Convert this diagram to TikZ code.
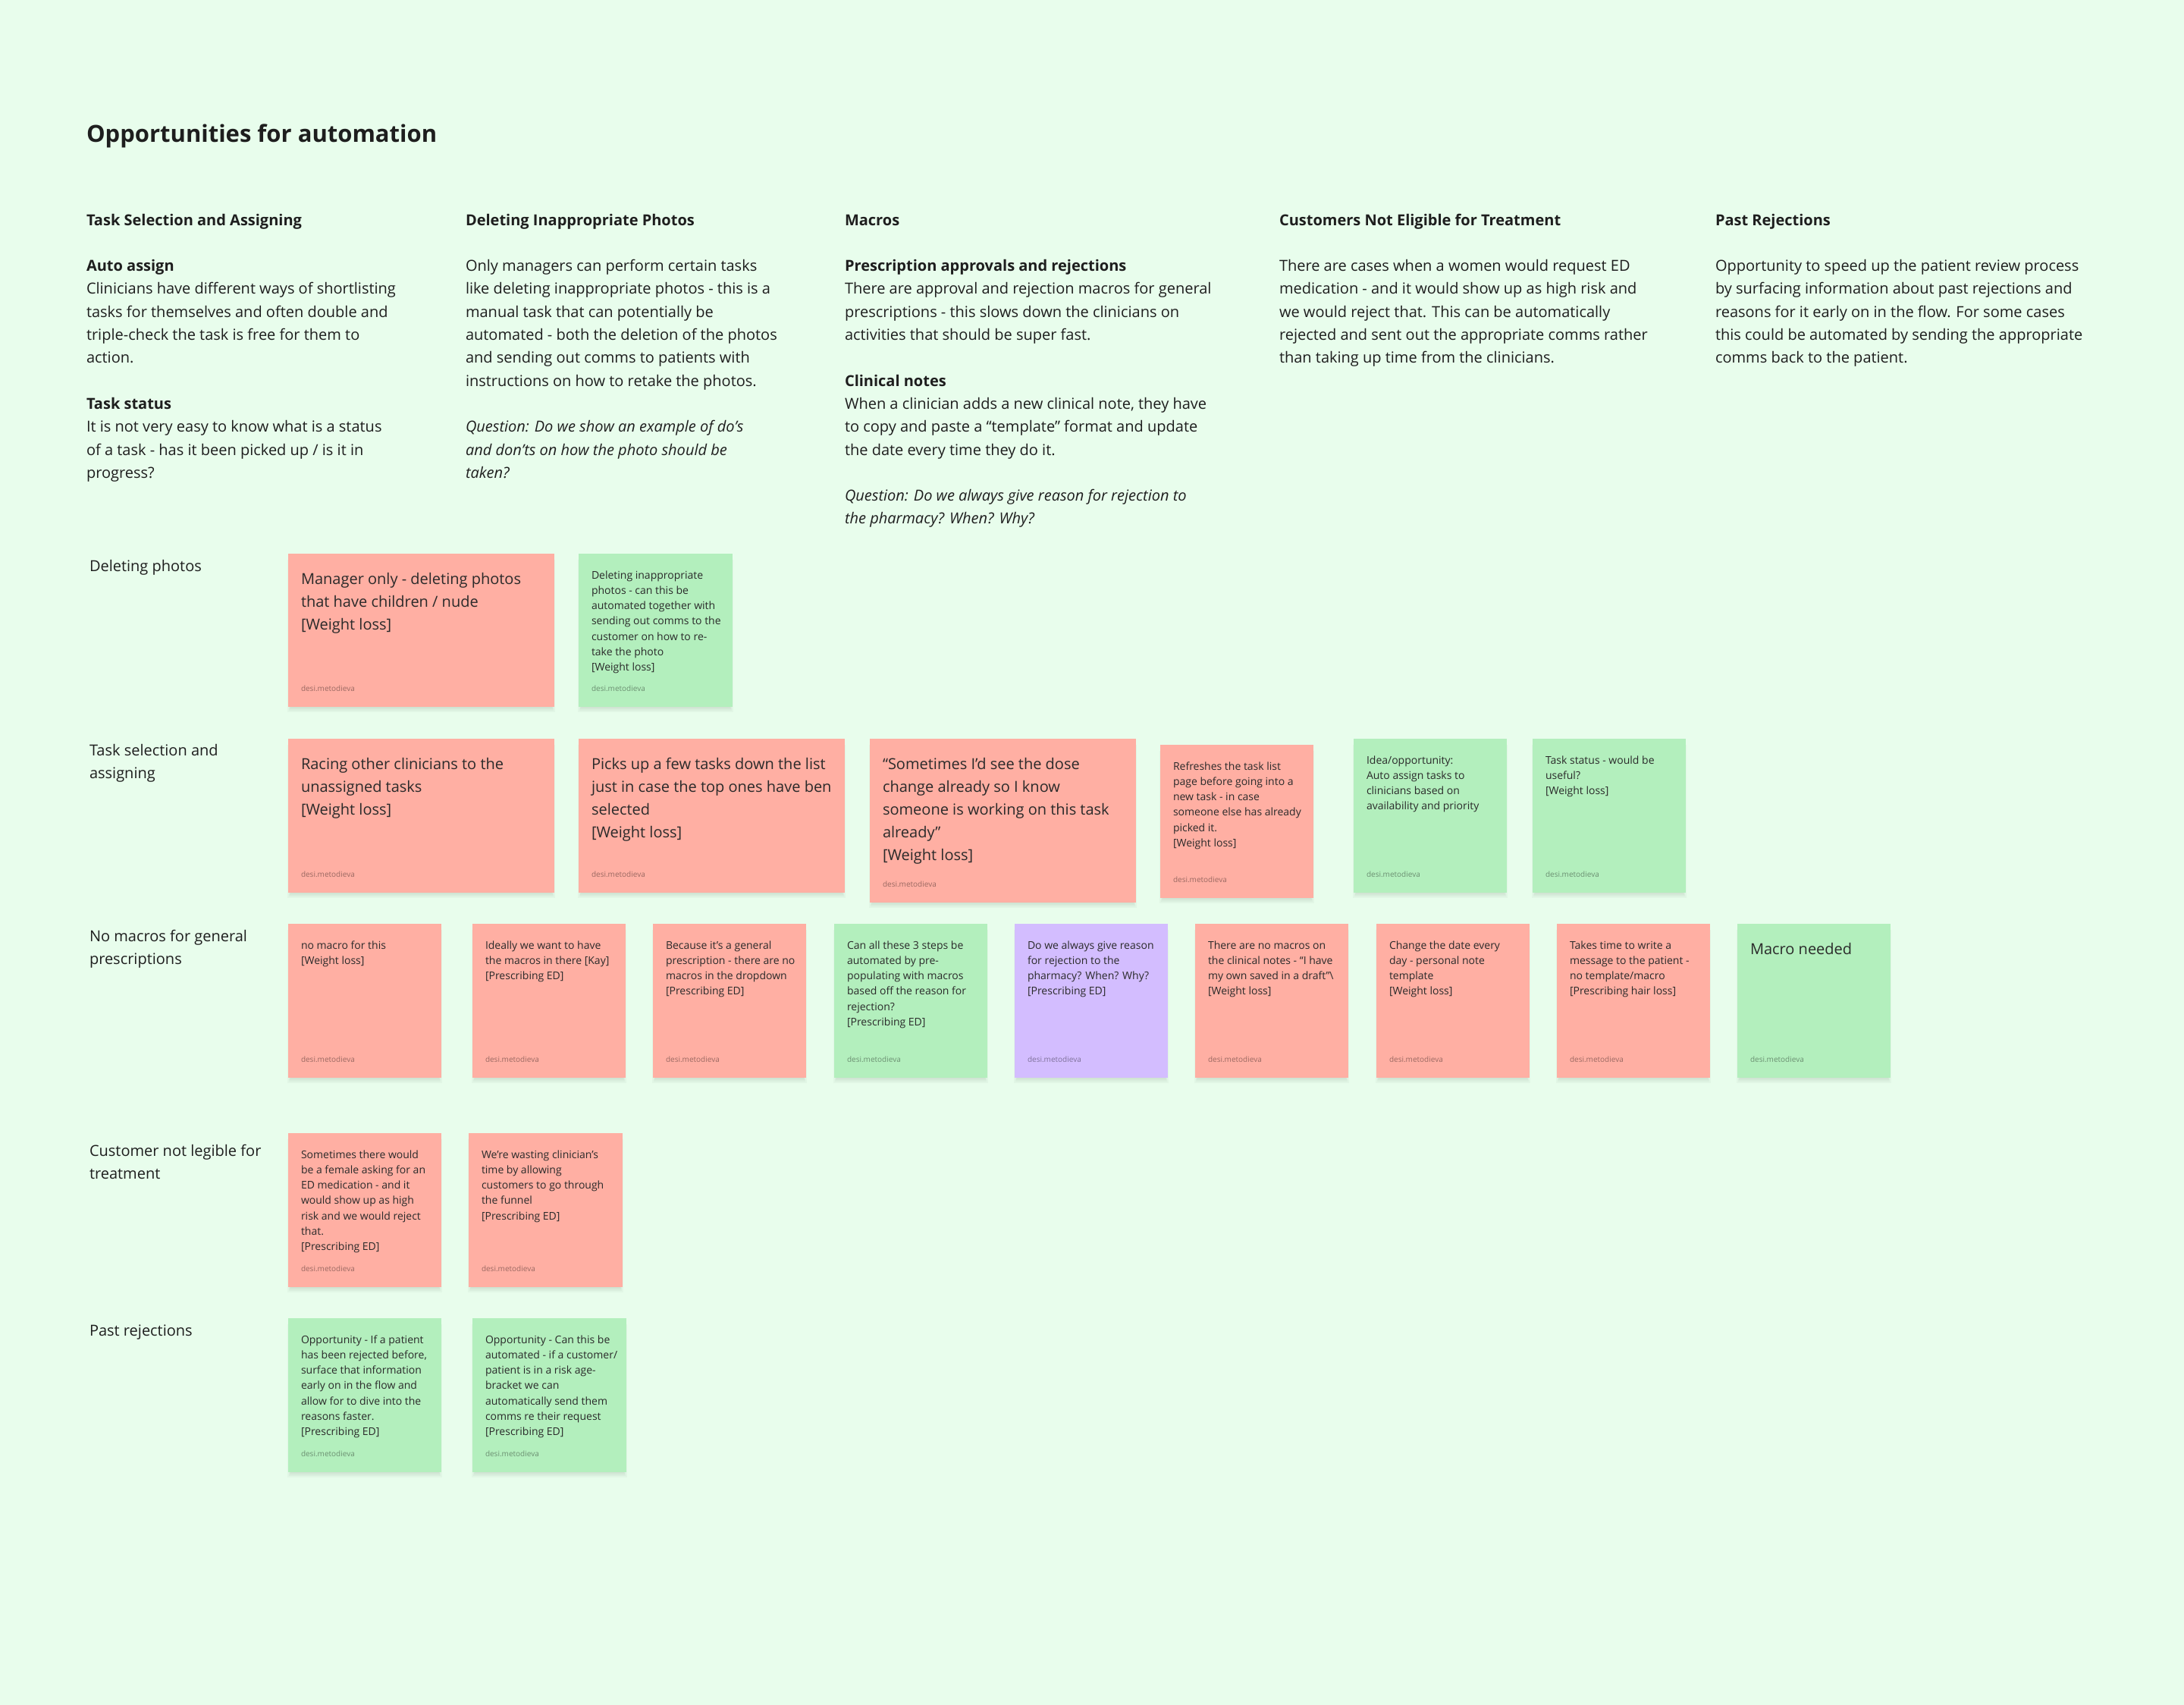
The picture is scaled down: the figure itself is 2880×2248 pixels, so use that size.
\documentclass[tikz,border=0pt]{standalone}
\usepackage{fontspec}
\setmainfont{Open Sans}
\usetikzlibrary{calc}
\definecolor{bg}{HTML}{E8FDEC}
\definecolor{nred}{HTML}{FFAFA3}
\definecolor{ngreen}{HTML}{B3EFBD}
\definecolor{npurple}{HTML}{D3BDFF}
\definecolor{ink}{HTML}{1E1E1E}
\definecolor{nink}{HTML}{2A2A2A}
\tikzset{
  colt/.style={anchor=north west, inner sep=0pt, outer sep=0pt, align=left, text=ink, font=\fontsize{10pt}{15.15pt}\selectfont},
  rowlab/.style={anchor=north west, inner sep=0pt, outer sep=0pt, align=left, text=ink, font=\fontsize{10pt}{15pt}\selectfont},
  titlet/.style={anchor=north west, inner sep=0pt, outer sep=0pt, text=ink, font=\fontsize{15.5pt}{18pt}\selectfont\bfseries},
  notebox/.style={draw=none, inner sep=0pt, outer sep=0pt, anchor=north west},
  shade/.style={fill=black, fill opacity=0.028, draw=none},
  big/.style={anchor=north west, inner sep=0pt, outer sep=0pt, align=left, text=nink, font=\fontsize{10pt}{15pt}\selectfont},
  small/.style={anchor=north west, inner sep=0pt, outer sep=0pt, align=left, text=nink, font=\fontsize{7pt}{10.15pt}\selectfont},
  author/.style={anchor=base west, inner sep=0pt, outer sep=0pt, text=black, text opacity=0.4, font=\fontsize{5pt}{6pt}\selectfont},
}
\newcommand\toffbig{20}
\newcommand\toffsmall{19}
\newcommand\stick[8]{%
  \foreach \g in {0,2,4,6}{%
    \fill[shade] (#2+3-\g*0.6,#3+8) rectangle (#2+#4-3+\g*0.6,#3+#5+1+\g);
  }
  \node[notebox, fill=#6, minimum width=#4*0.5pt, minimum height=#5*0.5pt] (#1) at (#2,#3) {};
  \node[#7] (#1-t) at ($(#1.north west)+(17,\csname toff#7\endcsname)$) {\rule{0pt}{1em}#8};
  \node[author] (#1-a) at ($(#1.south west)+(17,-21)$) {desi.metodieva};
}
\begin{document}
\begin{tikzpicture}[x=0.5pt,y=-0.5pt]
\fill[bg] (0,0) rectangle (2880,2248);
\useasboundingbox (0,0) rectangle (2880,2248);

\node[titlet] (title) at (114,156.5) {\rule{0pt}{1em}Opportunities for automation};

\node[colt] (col1) at (114,277) {\rule{0pt}{1em}\bfseries Task Selection and Assigning\\ \mbox{}\\
\bfseries Auto assign\\
Clinicians have different ways of shortlisting\\
tasks for themselves and often double and\\
triple-check the task is free for them to\\
action.\\ \mbox{}\\
\bfseries Task status\\
It is not very easy to know what is a status\\
of a task - has it been picked up / is it in\\
progress?};

\node[colt] (col2) at (614,277) {\rule{0pt}{1em}\bfseries Deleting Inappropriate Photos\\ \mbox{}\\
Only managers can perform certain tasks\\
like deleting inappropriate photos - this is a\\
manual task that can potentially be\\
automated - both the deletion of the photos\\
and sending out comms to patients with\\
instructions on how to retake the photos.\\ \mbox{}\\
\itshape Question: Do we show an example of do’s\\
\itshape and don’ts on how the photo should be\\
\itshape taken?};

\node[colt] (col3) at (1114,277) {\rule{0pt}{1em}\bfseries Macros\\ \mbox{}\\
\bfseries Prescription approvals and rejections\\
There are approval and rejection macros for general\\
prescriptions - this slows down the clinicians on\\
activities that should be super fast.\\ \mbox{}\\
\bfseries Clinical notes\\
When a clinician adds a new clinical note, they have\\
to copy and paste a “template” format and update\\
the date every time they do it.\\ \mbox{}\\
\itshape Question: Do we always give reason for rejection to\\
\itshape the pharmacy? When? Why?};

\node[colt] (col4) at (1687,277) {\rule{0pt}{1em}\bfseries Customers Not Eligible for Treatment\\ \mbox{}\\
There are cases when a women would request ED\\
medication - and it would show up as high risk and\\
we would reject that. This can be automatically\\
rejected and sent out the appropriate comms rather\\
than taking up time from the clinicians.};

\node[colt] (col5) at (2262,277) {\rule{0pt}{1em}\bfseries Past Rejections\\ \mbox{}\\
Opportunity to speed up the patient review process\\
by surfacing information about past rejections and\\
reasons for it early on in the flow. For some cases\\
this could be automated by sending the appropriate\\
comms back to the patient.};

% row labels
\node[rowlab] (r1) at (118,733) {\rule{0pt}{1em}Deleting photos};
\node[rowlab] (r2) at (118,976) {\rule{0pt}{1em}Task selection and\\assigning};
\node[rowlab] (r3) at (118,1221) {\rule{0pt}{1em}No macros for general\\prescriptions};
\node[rowlab] (r4) at (118,1504) {\rule{0pt}{1em}Customer not legible for\\treatment};
\node[rowlab] (r5) at (118,1741) {\rule{0pt}{1em}Past rejections};

% row 1
\stick{A1}{380}{730}{351}{202}{nred}{big}{Manager only - deleting photos\\that have children / nude\\\relax [Weight loss]}
\stick{A2}{763}{730}{203}{202}{ngreen}{small}{Deleting inappropriate\\photos - can this be\\automated together with\\sending out comms to the\\customer on how to re-\\take the photo\\\relax [Weight loss]}

% row 2
\stick{B1}{380}{974}{351}{203}{nred}{big}{Racing other clinicians to the\\unassigned tasks\\\relax [Weight loss]}
\stick{B2}{763}{974}{351}{203}{nred}{big}{Picks up a few tasks down the list\\just in case the top ones have ben\\selected\\\relax [Weight loss]}
\stick{B3}{1147}{974}{351}{216}{nred}{big}{“Sometimes I’d see the dose\\change already so I know\\someone is working on this task\\already”\\\relax [Weight loss]}
\stick{B4}{1530}{982}{202}{202}{nred}{small}{Refreshes the task list\\page before going into a\\new task - in case\\someone else has already\\picked it.\\\relax [Weight loss]}
\stick{B5}{1785}{974}{202}{203}{ngreen}{small}{Idea/opportunity:\\Auto assign tasks to\\clinicians based on\\availability and priority}
\stick{B6}{2021}{974}{202}{203}{ngreen}{small}{Task status - would be\\useful?\\\relax [Weight loss]}

% row 3
\stick{C1}{380}{1218}{202}{203}{nred}{small}{no macro for this\\\relax [Weight loss]}
\stick{C2}{623}{1218}{202}{203}{nred}{small}{Ideally we want to have\\the macros in there [Kay]\\\relax [Prescribing ED]}
\stick{C3}{861}{1218}{202}{203}{nred}{small}{Because it’s a general\\prescription - there are no\\macros in the dropdown\\\relax [Prescribing ED]}
\stick{C4}{1100}{1218}{202}{203}{ngreen}{small}{Can all these 3 steps be\\automated by pre-\\populating with macros\\based off the reason for\\rejection?\\\relax [Prescribing ED]}
\stick{C5}{1338}{1218}{202}{203}{npurple}{small}{Do we always give reason\\for rejection to the\\pharmacy? When? Why?\\\relax [Prescribing ED]}
\stick{C6}{1576}{1218}{202}{203}{nred}{small}{There are no macros on\\the clinical notes - “I have\\my own saved in a draft”\textbackslash\\\relax [Weight loss]}
\stick{C7}{1815}{1218}{202}{203}{nred}{small}{Change the date every\\day - personal note\\template\\\relax [Weight loss]}
\stick{C8}{2053}{1218}{202}{203}{nred}{small}{Takes time to write a\\message to the patient -\\no template/macro\\\relax [Prescribing hair loss]}
\stick{C9}{2291}{1218}{202}{203}{ngreen}{big}{Macro needed}

% row 4
\stick{D1}{380}{1494}{202}{203}{nred}{small}{Sometimes there would\\be a female asking for an\\ED medication - and it\\would show up as high\\risk and we would reject\\that.\\\relax [Prescribing ED]}
\stick{D2}{618}{1494}{203}{203}{nred}{small}{We’re wasting clinician’s\\time by allowing\\customers to go through\\the funnel\\\relax [Prescribing ED]}

% row 5
\stick{E1}{380}{1738}{202}{203}{ngreen}{small}{Opportunity - If a patient\\has been rejected before,\\surface that information\\early on in the flow and\\allow for to dive into the\\reasons faster.\\\relax [Prescribing ED]}
\stick{E2}{623}{1738}{203}{203}{ngreen}{small}{Opportunity - Can this be\\automated - if a customer/\\patient is in a risk age-\\bracket we can\\automatically send them\\comms re their request\\\relax [Prescribing ED]}
\end{tikzpicture}
\end{document}
